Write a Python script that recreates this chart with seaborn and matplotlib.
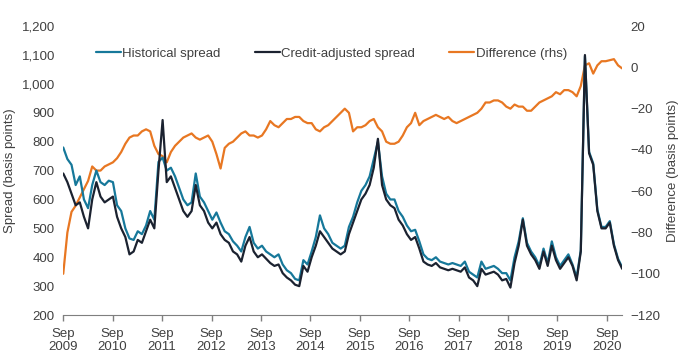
import pandas as pd
import numpy as np
import matplotlib
matplotlib.use("Agg")
import matplotlib.pyplot as plt
import matplotlib.dates as mdates
from matplotlib.ticker import FuncFormatter, FixedLocator
import seaborn as sns

# ================================================
#  Datos (un valor por mes)
# ================================================

historical_spread = [
    780, 740, 720, 650, 680, 600, 570, 650, 700, 660, 650, 665,
    660, 580, 560, 500, 465, 460, 490, 480, 510, 560, 530, 730,
    745, 700, 710, 680, 640, 600, 580, 590, 690, 610, 590, 560,
    530, 555, 520, 490, 480, 455, 440, 420, 470, 505, 450, 430,
    440, 420, 410, 400, 410, 375, 355, 345, 325, 320, 390, 375,
    420, 470, 545, 500, 480, 450, 440, 430, 440, 505, 540, 590,
    630, 650, 680, 740, 800, 680, 620, 600, 600, 560, 540, 510,
    490, 495, 455, 410, 395, 390, 400, 385, 380, 375, 380, 375,
    370, 385, 350, 340, 330, 385, 360, 365, 370, 360, 345, 345,
    320, 400, 455, 535, 450, 420, 400, 370, 430, 380, 455, 400,
    370, 390, 410, 375, 330, 425, 1095, 765, 725, 565, 505, 505,
    525, 445, 395, 365,
]

credit_adjusted_spread = [
    690, 660, 620, 580, 590, 540, 500, 600, 660, 610, 590, 600,
    610, 540, 500, 470, 410, 420, 460, 450, 490, 530, 500, 700,
    875, 660, 680, 640, 600, 560, 540, 560, 650, 580, 560, 520,
    500, 520, 480, 460, 450, 420, 410, 385, 440, 470, 420, 400,
    410, 395, 380, 370, 375, 345, 330, 320, 305, 300, 370, 350,
    400, 440, 490, 470, 450, 430, 420, 410, 420, 480, 520, 560,
    600, 620, 650, 710, 810, 650, 600, 580, 570, 530, 510, 480,
    460, 470, 430, 385, 375, 370, 380, 365, 360, 355, 360, 355,
    350, 365, 330, 320, 300, 360, 340, 345, 350, 340, 320, 325,
    295, 380, 440, 530, 440, 410, 390, 360, 420, 370, 440, 390,
    360, 380, 400, 370, 320, 420, 1100, 760, 720, 560, 500, 500,
    520, 440, 390, 360,
]

difference = [
    -100, -80, -70, -67, -63, -59, -55, -48, -50, -50, -48, -47,
    -46, -44, -41, -37, -34, -33, -33, -31, -30, -31, -38, -42,
    -43, -46, -41, -38, -36, -34, -33, -32, -34, -35, -34, -33,
    -36, -42, -49, -39, -37, -36, -34, -32, -31, -33, -33, -34,
    -33, -30, -26, -28, -29, -27, -25, -25, -24, -24, -26, -27,
    -27, -30, -31, -29, -28, -26, -24, -22, -20, -22, -31, -29,
    -29, -28, -26, -25, -29, -31, -36, -37, -37, -36, -33, -29,
    -27, -22, -28, -26, -25, -24, -23, -24, -25, -24, -26, -27,
    -26, -25, -24, -23, -22, -20, -17, -17, -16, -16, -17, -19,
    -20, -18, -19, -19, -21, -21, -19, -17, -16, -15, -14, -12,
    -13, -11, -11, -12, -14, -9, 1, 2, -3, 1, 3, 3,
    3.5, 4, 1, -0.5,
]

fechas = pd.date_range("2009-09-01", "2020-12-24", periods=len(difference))

df = pd.DataFrame({
    "fecha": fechas,
    "Historical spread": historical_spread,
    "Credit-adjusted spread": credit_adjusted_spread,
    "Difference (rhs)": difference,
})

# ================================================
#  Grafico
# ================================================

sns.set_style("white")
plt.rcParams["font.family"] = ["Liberation Sans", "DejaVu Sans"]
texto = "#404040"

fig, ax = plt.subplots(figsize=(6.8, 3.58), dpi=100)
fig.subplots_adjust(left=0.093, right=0.915, top=0.927, bottom=0.12)
ax2 = ax.twinx()

sns.lineplot(data=df, x="fecha", y="Difference (rhs)", ax=ax2,
             color="#e87722", linewidth=2.4, label="Difference (rhs)")
sns.lineplot(data=df, x="fecha", y="Historical spread", ax=ax,
             color="#16789a", linewidth=1.5, label="Historical spread")
sns.lineplot(data=df, x="fecha", y="Credit-adjusted spread", ax=ax,
             color="#1b2230", linewidth=1.5, label="Credit-adjusted spread")

ax.set_zorder(ax2.get_zorder() + 1)
ax.patch.set_visible(False)

# Ejes
ax.set_ylim(200, 1200)
ax.set_yticks(range(200, 1201, 100))
ax.yaxis.set_major_formatter(FuncFormatter(lambda v, p: f"{int(v):,}"))
ax2.set_ylim(-120, 20)
ax2.set_yticks(range(-120, 21, 20))

ax.set_xlim(pd.Timestamp("2009-09-01"), pd.Timestamp("2020-12-24"))
ticks_sep = [pd.Timestamp(f"{a}-09-01") for a in range(2009, 2021)]
ax.xaxis.set_major_locator(FixedLocator(mdates.date2num(ticks_sep)))
ax.set_xticklabels([f"Sep\n{t.year}" for t in ticks_sep])

for a in (ax, ax2):
    for s in a.spines.values():
        s.set_visible(False)
    a.tick_params(axis="y", length=0, labelsize=9.5, labelcolor=texto, pad=6)
ax.spines["bottom"].set_visible(True)
ax.spines["bottom"].set_color("#7f7f7f")
ax.tick_params(axis="x", length=4, width=1, color="#7f7f7f", direction="out",
               labelsize=9.5, labelcolor=texto, pad=5)
ax.tick_params(axis="x", bottom=True)

ax.set_xlabel("")
ax.set_ylabel("Spread (basis points)", fontsize=9.5, color=texto, labelpad=4)
ax2.set_ylabel("Difference (basis points)", fontsize=9.5, color=texto, labelpad=5)

# Leyenda
h1, l1 = ax.get_legend_handles_labels()
h2, l2 = ax2.get_legend_handles_labels()
ax.get_legend().remove()
ax2.get_legend().remove()
for h in h1 + h2:
    h.set_linewidth(1.6)
fig.legend(h1 + h2, l1 + l2, loc="center", bbox_to_anchor=(0.487, 0.85),
           ncol=3, frameon=False, fontsize=9.5, handlelength=1.9,
           handletextpad=0.1, columnspacing=2.6, labelcolor=texto)

plt.savefig("out.png", dpi=100)
